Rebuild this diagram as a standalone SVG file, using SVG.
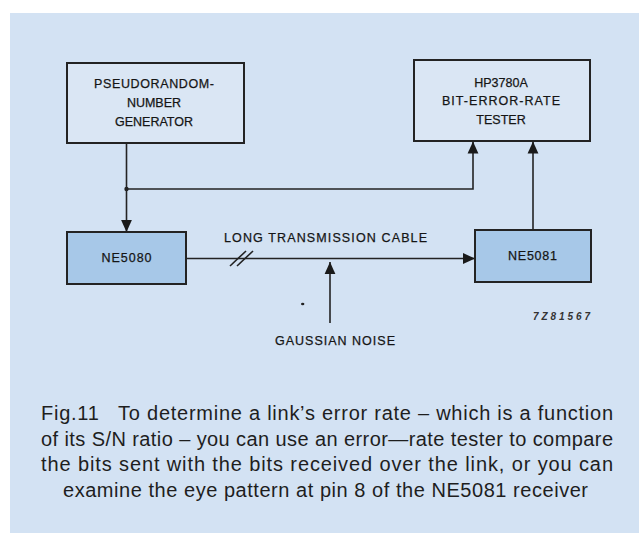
<svg xmlns="http://www.w3.org/2000/svg" width="639" height="533" viewBox="0 0 639 533">
<style>
.box{fill:#dae6f4;stroke:#232323;stroke-width:2}
.chip{fill:#a7c8e8;stroke:#232323;stroke-width:2}
.lbl{font-family:"Liberation Sans",Arial,sans-serif;font-size:12.5px;fill:#151515;text-anchor:middle;stroke:#151515;stroke-width:0.25}
.cap{font-family:"Liberation Sans",Arial,sans-serif;font-size:20px;fill:#1e1e1e}
.wire{fill:none;stroke:#232323;stroke-width:1.6}
</style>
<defs>
<marker id="ah" markerUnits="userSpaceOnUse" markerWidth="12" markerHeight="12" viewBox="0 0 10 10" refX="10" refY="5" orient="auto">
<path d="M0,0.5 L10,5 L0,9.5 Z" fill="#1a1a1a"/>
</marker>
</defs>
<rect x="0" y="0" width="639" height="533" fill="#ffffff"/>
<rect x="10" y="13" width="629" height="520" fill="#d3e2f3"/>

<g id="connectors">
<line class="wire" x1="126.5" y1="143" x2="126.5" y2="232" marker-end="url(#ah)"/>
<circle cx="126.5" cy="189" r="2.2" fill="#232323"/>
<polyline class="wire" points="126.5,189 473,189 473,141.5" marker-end="url(#ah)"/>
<line class="wire" x1="533" y1="230" x2="533" y2="141.5" marker-end="url(#ah)"/>
<line class="wire" x1="186" y1="258.5" x2="475" y2="258.5" marker-end="url(#ah)"/>
<line class="wire" x1="330" y1="323" x2="330" y2="262" marker-end="url(#ah)"/>
<line class="wire" x1="230" y1="266" x2="246" y2="251" stroke-width="1.3"/>
<line class="wire" x1="237" y1="266" x2="253" y2="251" stroke-width="1.3"/>
</g>

<g id="prng">
<rect class="box" x="67" y="63" width="177" height="80"/>
<text class="lbl" x="154" y="88" textLength="120" lengthAdjust="spacing">PSEUDORANDOM-</text>
<text class="lbl" x="154" y="107">NUMBER</text>
<text class="lbl" x="154" y="126">GENERATOR</text>
</g>

<g id="tester">
<rect class="box" x="414" y="60" width="176" height="81"/>
<text class="lbl" x="501" y="87">HP3780A</text>
<text class="lbl" x="501" y="105" textLength="118" lengthAdjust="spacing">BIT-ERROR-RATE</text>
<text class="lbl" x="501" y="124">TESTER</text>
</g>

<g id="ne5080">
<rect class="chip" x="67" y="232" width="119" height="52"/>
<text class="lbl" x="126.5" y="262" textLength="50" lengthAdjust="spacing">NE5080</text>
</g>

<g id="ne5081">
<rect class="chip" x="475" y="230" width="116" height="52"/>
<text class="lbl" x="532.5" y="260" textLength="49" lengthAdjust="spacing">NE5081</text>
</g>

<g id="cable-label">
<text class="lbl" x="224" y="242" style="text-anchor:start" textLength="203" lengthAdjust="spacing">LONG TRANSMISSION CABLE</text>
</g>

<g id="noise">
<text class="lbl" x="275" y="344.5" style="text-anchor:start" textLength="120" lengthAdjust="spacing">GAUSSIAN NOISE</text>
</g>

<ellipse cx="302.7" cy="304" rx="1.7" ry="1.2" fill="#222"/>

<text x="533" y="319.5" font-family="'Liberation Sans',Arial,sans-serif" font-size="10" font-style="italic" font-weight="bold" fill="#333" textLength="57" lengthAdjust="spacing">7Z81567</text>

<g id="caption">
<text class="cap" x="41" y="420" textLength="572" lengthAdjust="spacing">Fig.11&#160;&#160; To determine a link’s error rate – which is a function</text>
<text class="cap" x="41" y="445.5" textLength="572" lengthAdjust="spacing">of its S/N ratio – you can use an error—rate tester to compare</text>
<text class="cap" x="41" y="471" textLength="572" lengthAdjust="spacing">the bits sent with the bits received over the link, or you can</text>
<text class="cap" x="63" y="496.5" textLength="525" lengthAdjust="spacing">examine the eye pattern at pin 8 of the NE5081 receiver</text>
</g>
</svg>
